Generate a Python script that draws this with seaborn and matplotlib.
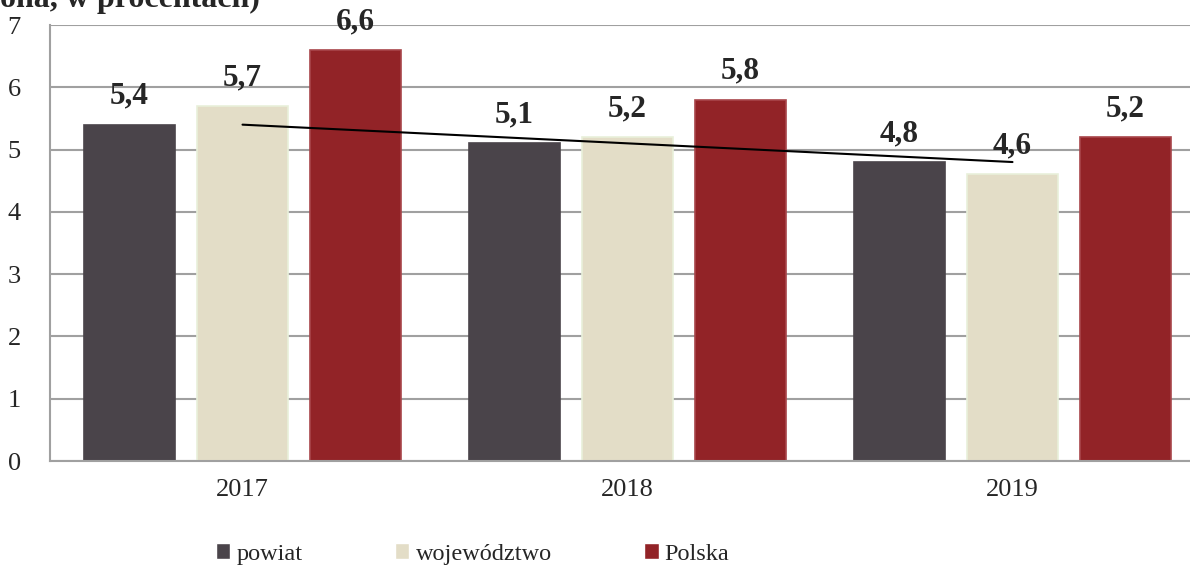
import numpy as np
import pandas as pd
import matplotlib
matplotlib.use("Agg")
import matplotlib.pyplot as plt
import seaborn as sns

# dane
lata = ["2017", "2018", "2019"]
serie = ["powiat", "województwo", "Polska"]
powiat = [5.4, 5.1, 4.8]
wojewodztwo = [5.7, 5.2, 4.6]
polska = [6.6, 5.8, 5.2]

kolory = ["#4A444A", "#E3DDC7", "#922327"]
krawedzie = ["#4A444A", "#E9F0DA", "#A8454A"]

df = pd.DataFrame({
    "rok": lata * 3,
    "seria": [s for s in serie for _ in lata],
    "wartosc": powiat + wojewodztwo + polska,
})

sns.set_style("white")
plt.rcParams["font.family"] = ["Liberation Serif", "DejaVu Serif"]

fig = plt.figure(figsize=(11.9, 5.72), dpi=100)
ax = fig.add_axes([50 / 1190, 1 - 461 / 572, 1155 / 1190, 436 / 572])

sns.barplot(data=df, x="rok", y="wartosc", hue="seria", hue_order=serie,
            palette=kolory, width=0.88, gap=0.2, saturation=1, ax=ax)

for cont, ec in zip(ax.containers, krawedzie):
    for bar in cont:
        bar.set_edgecolor(ec)
        bar.set_linewidth(1.2)
    ax.bar_label(cont, labels=[f"{v:.1f}".replace(".", ",") for v in cont.datavalues],
                 padding=10, fontsize=22.5, fontweight="bold")

# linia trendu (powiat)
x = np.arange(len(lata))
a, b = np.polyfit(x, powiat, 1)
ax.plot([x[0], x[-1]], [a * x[0] + b, a * x[-1] + b], color="black", lw=1.5, zorder=5)

ax.set_ylim(0, 7)
ax.set_xlim(-0.5, 2.5)
ax.set_yticks(range(0, 8))
ax.yaxis.grid(True, color="#A0A0A0", lw=1.5)
ax.set_axisbelow(True)
ax.set_xlabel("")
ax.set_ylabel("")
ax.tick_params(axis="both", labelsize=19, length=0)
ax.tick_params(axis="y", pad=21)
ax.tick_params(axis="x", pad=13)
for s in ["top", "right"]:
    ax.spines[s].set_visible(False)
for s in ["left", "bottom"]:
    ax.spines[s].set_color("#A0A0A0")
    ax.spines[s].set_linewidth(1.5)

ax.legend(loc="center left", bbox_to_anchor=(206 / 1190, 1 - 554 / 572),
          bbox_transform=fig.transFigure, ncol=3, frameon=False, fontsize=17.5,
          handlelength=0.6, handleheight=0.6, handletextpad=0.25,
          columnspacing=3.8, borderaxespad=0)

fig.text(0.0, 1 - 7 / 572, "ona, w procentach)", fontsize=23, fontweight="bold",
         ha="left", va="baseline")

fig.savefig("out.png", dpi=100)
